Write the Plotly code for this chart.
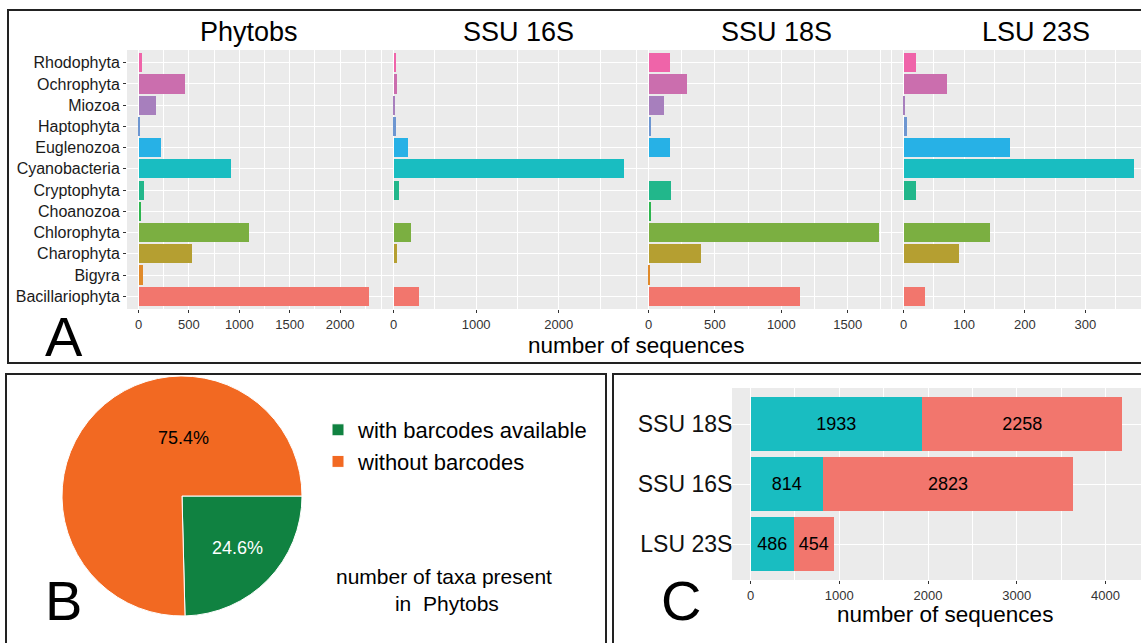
import plotly.graph_objects as go

# ---------------- data ----------------
categories = ["Bacillariophyta", "Bigyra", "Charophyta", "Chlorophyta", "Choanozoa",
              "Cryptophyta", "Cyanobacteria", "Euglenozoa", "Haptophyta", "Miozoa",
              "Ochrophyta", "Rhodophyta"]
facet_names = ["Phytobs", "SSU 16S", "SSU 18S", "LSU 23S"]
phytobs = [2291, 40, 533, 1099, 20, 56, 920, 219, 10, 172, 464, 36]
ssu16s = [311, 0, 40, 214, 0, 61, 2796, 174, 24, 8, 40, 32]
ssu18s = [1142, 8, 392, 1739, 20, 171, 0, 158, 20, 120, 286, 163]
lsu23s = [36, 0, 92, 142, 0, 21, 381, 176, 5, 3, 72, 21]
facet_dticks = [500, 1000, 500, 100]

cat_colors = ["#F2766D", "#E08A2A", "#B59F31", "#7BAF41", "#2DB54F", "#22B78B",
              "#19BDC1", "#27B1E6", "#6D96D1", "#A77FBD", "#CB6EAE", "#EF64A9"]

pie_labels = ["with barcodes available", "without barcodes"]
pie_values = [24.6, 75.4]
pie_colors = ["#108241", "#F26922"]

markers = ["LSU 23S", "SSU 16S", "SSU 18S"]
with_barcodes = [486, 814, 1933]
without_barcodes = [454, 2823, 2258]
c_colors = ["#19BDC1", "#F2766D"]

# ---------------- helpers (pixel -> paper) ----------------
W, H = 1141, 643
FONT = "Liberation Sans, Arial, Helvetica, sans-serif"


def px(x):
    return x / W


def py(y):
    return 1 - y / H


fig = go.Figure()
layout = {}

# ---------------- Panel A: faceted horizontal bars ----------------
facet_values = [phytobs, ssu16s, ssu18s, lsu23s]
facet_left = 127
facet_w = 254
facet_gap = 1
a_top, a_bot = 50, 309
title_centers = [249, 518, 776, 1036]

annotations = []
for i, (name, vals, dt) in enumerate(zip(facet_names, facet_values, facet_dticks)):
    k = "" if i == 0 else str(i + 1)
    x0 = facet_left + i * (facet_w + facet_gap)
    x1 = x0 + facet_w
    vmax = max(vals)
    lo, hi = -0.05 * vmax, 1.05 * vmax
    if x1 > W:
        hi = lo + (hi - lo) * (W - x0) / facet_w
        x1 = W
    fig.add_trace(go.Bar(
        x=vals, y=categories, orientation="h",
        marker=dict(color=cat_colors, line=dict(width=0)),
        width=0.9, showlegend=False, hoverinfo="x+y",
        xaxis="x" + k, yaxis="y" + k,
    ))
    layout["xaxis" + k] = dict(
        domain=[px(x0), px(x1)], anchor="y" + k, range=[lo, hi],
        tick0=0, dtick=dt, ticks="outside", ticklen=3, tickcolor="#333333",
        tickfont=dict(size=13, color="#333333", family=FONT),
        showgrid=True, gridcolor="white", gridwidth=1.3,
        minor=dict(dtick=dt / 2, tick0=0, showgrid=True, gridcolor="white", gridwidth=0.6),
        zeroline=False, showline=False,
    )
    layout["yaxis" + k] = dict(
        domain=[py(a_bot), py(a_top)], anchor="x" + k, type="category",
        categoryorder="array", categoryarray=categories, range=[-0.6, 11.6],
        showgrid=True, gridcolor="white", gridwidth=1.3,
        ticks="outside" if i == 0 else "", ticklen=3, tickcolor="#333333",
        showticklabels=(i == 0),
        tickfont=dict(size=16, color="#1a1a1a", family=FONT),
        zeroline=False, showline=False,
    )
    annotations.append(dict(
        text=name, x=px(title_centers[i]), y=py(32), xref="paper", yref="paper",
        showarrow=False, font=dict(size=27, color="black", family=FONT),
        xanchor="center", yanchor="middle",
    ))

annotations.append(dict(text="number of sequences", x=px(636), y=py(345), xref="paper", yref="paper",
                        showarrow=False, font=dict(size=22.5, color="black", family=FONT),
                        xanchor="center", yanchor="middle"))
annotations.append(dict(text="A", x=px(64), y=py(336), xref="paper", yref="paper",
                        showarrow=False, font=dict(size=56, color="black", family=FONT),
                        xanchor="center", yanchor="middle"))

# ---------------- Panel B: pie ----------------
fig.add_trace(go.Pie(
    labels=pie_labels, values=pie_values, sort=False, direction="clockwise",
    rotation=90, textinfo="none", hoverinfo="label+percent",
    marker=dict(colors=pie_colors, line=dict(color="white", width=1)),
    domain=dict(x=[px(62), px(302)], y=[py(616), py(376)]),
    showlegend=True,
))
total = sum(pie_values)
annotations.append(dict(text=f"{100 * pie_values[1] / total:.1f}%", x=px(183), y=py(438),
                        xref="paper", yref="paper", showarrow=False,
                        xanchor="center", yanchor="middle",
                        font=dict(size=18, color="black", family=FONT)))
annotations.append(dict(text=f"{100 * pie_values[0] / total:.1f}%", x=px(237), y=py(548),
                        xref="paper", yref="paper", showarrow=False,
                        xanchor="center", yanchor="middle",
                        font=dict(size=18, color="white", family=FONT)))
annotations.append(dict(text="number of taxa present<br> in  Phytobs", x=px(444), y=py(590),
                        xref="paper", yref="paper", showarrow=False, align="center",
                        xanchor="center", yanchor="middle",
                        font=dict(size=21, color="black", family=FONT)))
annotations.append(dict(text="B", x=px(63), y=py(600), xref="paper", yref="paper",
                        showarrow=False, font=dict(size=56, color="black", family=FONT),
                        xanchor="center", yanchor="middle"))

# ---------------- Panel C: stacked bars ----------------
for vals, col, nm in [(with_barcodes, c_colors[0], "with"), (without_barcodes, c_colors[1], "without")]:
    fig.add_trace(go.Bar(
        x=vals, y=markers, orientation="h", name=nm,
        marker=dict(color=col, line=dict(width=0)), width=0.9,
        text=[str(v) for v in vals], textposition="inside", insidetextanchor="middle",
        textangle=0, constraintext="none",
        insidetextfont=dict(size=18, color="black", family=FONT),
        showlegend=False, xaxis="x5", yaxis="y5",
    ))
c_total = max(a + b for a, b in zip(with_barcodes, without_barcodes))
layout["xaxis5"] = dict(
    domain=[px(732), px(1141)], anchor="y5", range=[-0.05 * c_total, 1.05 * c_total],
    tick0=0, dtick=1000, ticks="outside", ticklen=3, tickcolor="#333333",
    tickfont=dict(size=13, color="#333333", family=FONT),
    showgrid=True, gridcolor="white", gridwidth=1.3,
    minor=dict(dtick=500, tick0=0, showgrid=True, gridcolor="white", gridwidth=0.6),
    zeroline=False, showline=False,
)
layout["yaxis5"] = dict(
    domain=[py(580), py(388)], anchor="x5", type="category",
    categoryorder="array", categoryarray=markers, range=[-0.6, 2.6],
    showgrid=True, gridcolor="white", gridwidth=1.3,
    ticks="outside", ticklen=2, tickcolor="#333333", ticklabelstandoff=-8,
    tickfont=dict(size=23, color="#111111", family=FONT),
    zeroline=False, showline=False,
)
annotations.append(dict(text="number of sequences", x=px(945), y=py(614), xref="paper", yref="paper",
                        showarrow=False, font=dict(size=22.5, color="black", family=FONT),
                        xanchor="center", yanchor="middle"))
annotations.append(dict(text="C", x=px(681), y=py(600), xref="paper", yref="paper",
                        showarrow=False, font=dict(size=56, color="black", family=FONT),
                        xanchor="center", yanchor="middle"))

# ---------------- panel frames ----------------
frame = dict(type="rect", xref="paper", yref="paper", line=dict(color="#222222", width=2),
             fillcolor="rgba(0,0,0,0)", layer="above")
shapes = [
    dict(frame, x0=px(8), x1=px(1150), y0=py(363), y1=py(10)),
    dict(frame, x0=px(6), x1=px(606), y0=py(660), y1=py(374)),
    dict(frame, x0=px(613), x1=px(1150), y0=py(660), y1=py(374)),
]

fig.update_layout(
    width=W, height=H, margin=dict(l=0, r=0, t=0, b=0),
    paper_bgcolor="white", plot_bgcolor="#EBEBEB",
    font=dict(family=FONT, color="black"),
    barmode="stack", bargap=0.1,
    legend=dict(x=px(318), y=py(409), xanchor="left", yanchor="top", traceorder="normal",
                font=dict(size=22, color="black", family=FONT),
                bgcolor="rgba(0,0,0,0)", itemwidth=30, tracegroupgap=0),
    annotations=annotations, shapes=shapes,
    **layout,
)

fig.write_html("out.html", config={"displayModeBar": False},
               post_script="document.body.style.margin='0';document.body.style.overflow='hidden';")
